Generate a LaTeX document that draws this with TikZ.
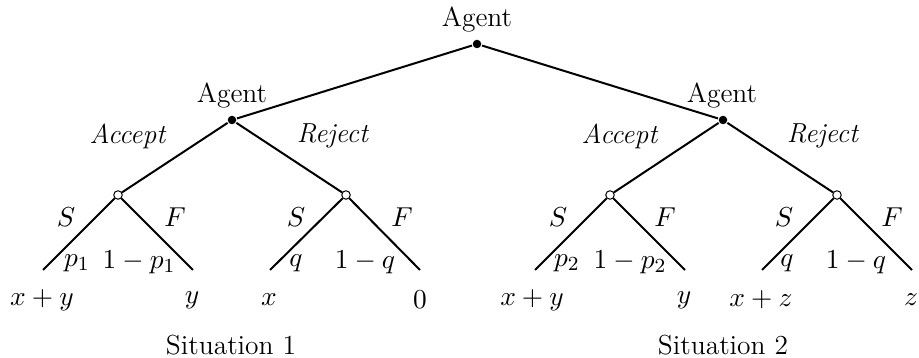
\documentclass[tikz,border=0pt]{standalone}

\begin{document}
\begin{tikzpicture}[x=0.4pt,y=-0.4pt,thick,
    every node/.style={font=\fontsize{11}{13}\selectfont},
    decision/.style={circle,fill,inner sep=0pt,minimum size=3.4pt},
    chance/.style={circle,draw,fill=white,inner sep=0pt,minimum size=3.4pt,line width=0.4pt},
    lbl/.style={inner sep=0pt}]
    \useasboundingbox (0,0) rectangle (919,358);

    % decision and chance nodes
    \node[decision] (R) at (477,44) {};
    \node[decision] (A1) at (232,120) {};
    \node[decision] (A2) at (723,120) {};
    \node[chance] (C11) at (118,195) {};
    \node[chance] (C12) at (346,195) {};
    \node[chance] (C21) at (610,195) {};
    \node[chance] (C22) at (837,195) {};
    \coordinate (L1) at (43,270);  \coordinate (L2) at (193,270);
    \coordinate (L3) at (270,270); \coordinate (L4) at (420,270);
    \coordinate (L5) at (535,270); \coordinate (L6) at (685,270);
    \coordinate (L7) at (762,270); \coordinate (L8) at (912,270);

    \path
        (R) edge (A1)
            edge (A2)
        (A1) edge (C11)
            edge (C12)
        (A2) edge (C21)
            edge (C22)
        (C11) edge (L1)
            edge (L2)
        (C12) edge (L3)
            edge (L4)
        (C21) edge (L5)
            edge (L6)
        (C22) edge (L7)
            edge (L8);

    % labels
    \node[lbl] (agR) at (477,20) {Agent};
    \node[lbl] (ag1) at (232,96) {Agent};
    \node[lbl] (ag2) at (722,96) {Agent};
    \node[lbl] (acc1) at (128,136) {\textit{Accept}};
    \node[lbl] (rej1) at (333,136) {\textit{Reject}};
    \node[lbl] (acc2) at (620,136) {\textit{Accept}};
    \node[lbl] (rej2) at (823,136) {\textit{Reject}};

    \node[lbl] (s11) at (66,217) {$S$};
    \node[lbl] (f11) at (175,217) {$F$};
    \node[lbl] (s12) at (296,217) {$S$};
    \node[lbl] (f12) at (402,217) {$F$};
    \node[lbl] (s21) at (558,217) {$S$};
    \node[lbl] (f21) at (665,217) {$F$};
    \node[lbl] (s22) at (784,217) {$S$};
    \node[lbl] (f22) at (892,217) {$F$};

    \node[lbl] (p11) at (77,263) {$p_1$};
    \node[lbl] (p12) at (139,262) {$1-p_1$};
    \node[lbl] (q11) at (296,263) {$q$};
    \node[lbl] (q12) at (365,262) {$1-q$};
    \node[lbl] (p21) at (567,263) {$p_2$};
    \node[lbl] (p22) at (630,262) {$1-p_2$};
    \node[lbl] (q21) at (787,263) {$q$};
    \node[lbl] (q22) at (856,262) {$1-q$};

    \node[lbl] (o1) at (42,300) {$x+y$};
    \node[lbl] (o2) at (192,300) {$y$};
    \node[lbl] (o3) at (269,300) {$x$};
    \node[lbl] (o4) at (420,300) {$0$};
    \node[lbl] (o5) at (532,300) {$x+y$};
    \node[lbl] (o6) at (684,300) {$y$};
    \node[lbl] (o7) at (761,300) {$x+z$};
    \node[lbl] (o8) at (911,300) {$z$};

    \node[lbl] (sit1) at (231,345) {Situation 1};
    \node[lbl] (sit2) at (723,345) {Situation 2};
\end{tikzpicture}
\end{document}
